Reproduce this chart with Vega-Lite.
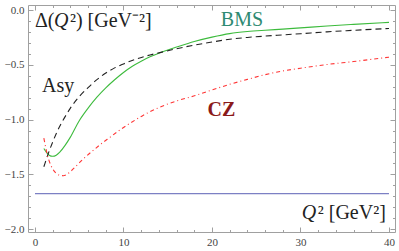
{
  "$schema": "https://vega.github.io/schema/vega-lite/v6.json",
  "width": 367,
  "height": 227,
  "autosize": "none",
  "padding": {"left": 28, "top": 5, "right": 4, "bottom": 19},
  "background": "white",
  "config": {
    "view": {"stroke": "#a0a0a0", "strokeWidth": 1},
    "axis": {
      "domain": false,
      "grid": false,
      "title": null,
      "labelFont": "Liberation Serif",
      "labelFontSize": 11,
      "labelColor": "#444444",
      "tickColor": "#a0a0a0",
      "tickWidth": 1
    }
  },
  "datasets": {
    "curves": [
      {"s": "BMS", "x": 1.0, "y": -1.264},
      {"s": "BMS", "x": 1.3, "y": -1.3},
      {"s": "BMS", "x": 1.6, "y": -1.325},
      {"s": "BMS", "x": 2.0, "y": -1.335},
      {"s": "BMS", "x": 2.4, "y": -1.325},
      {"s": "BMS", "x": 2.8, "y": -1.297},
      {"s": "BMS", "x": 3.4, "y": -1.235},
      {"s": "BMS", "x": 4.0, "y": -1.16},
      {"s": "BMS", "x": 5.0, "y": -1.01},
      {"s": "BMS", "x": 6.0, "y": -0.895},
      {"s": "BMS", "x": 7.0, "y": -0.795},
      {"s": "BMS", "x": 8.0, "y": -0.71},
      {"s": "BMS", "x": 9.0, "y": -0.636},
      {"s": "BMS", "x": 10.0, "y": -0.57},
      {"s": "BMS", "x": 11.0, "y": -0.513},
      {"s": "BMS", "x": 12.0, "y": -0.467},
      {"s": "BMS", "x": 13.0, "y": -0.427},
      {"s": "BMS", "x": 14.0, "y": -0.394},
      {"s": "BMS", "x": 15.0, "y": -0.365},
      {"s": "BMS", "x": 16.0, "y": -0.338},
      {"s": "BMS", "x": 18.0, "y": -0.287},
      {"s": "BMS", "x": 20.0, "y": -0.247},
      {"s": "BMS", "x": 22.0, "y": -0.215},
      {"s": "BMS", "x": 24.0, "y": -0.196},
      {"s": "BMS", "x": 26.0, "y": -0.184},
      {"s": "BMS", "x": 28.0, "y": -0.174},
      {"s": "BMS", "x": 30.0, "y": -0.163},
      {"s": "BMS", "x": 33.0, "y": -0.146},
      {"s": "BMS", "x": 36.0, "y": -0.131},
      {"s": "BMS", "x": 40.0, "y": -0.113},
      {"s": "Asy", "x": 1.0, "y": -1.43},
      {"s": "Asy", "x": 1.25, "y": -1.37},
      {"s": "Asy", "x": 1.5, "y": -1.31},
      {"s": "Asy", "x": 2.0, "y": -1.205},
      {"s": "Asy", "x": 2.5, "y": -1.11},
      {"s": "Asy", "x": 3.0, "y": -1.03},
      {"s": "Asy", "x": 3.5, "y": -0.96},
      {"s": "Asy", "x": 4.0, "y": -0.895},
      {"s": "Asy", "x": 5.0, "y": -0.79},
      {"s": "Asy", "x": 6.0, "y": -0.708},
      {"s": "Asy", "x": 7.0, "y": -0.635},
      {"s": "Asy", "x": 8.0, "y": -0.575},
      {"s": "Asy", "x": 9.0, "y": -0.528},
      {"s": "Asy", "x": 10.0, "y": -0.492},
      {"s": "Asy", "x": 11.5, "y": -0.445},
      {"s": "Asy", "x": 13.0, "y": -0.41},
      {"s": "Asy", "x": 14.5, "y": -0.381},
      {"s": "Asy", "x": 16.0, "y": -0.353},
      {"s": "Asy", "x": 18.0, "y": -0.32},
      {"s": "Asy", "x": 20.0, "y": -0.292},
      {"s": "Asy", "x": 22.0, "y": -0.267},
      {"s": "Asy", "x": 24.0, "y": -0.25},
      {"s": "Asy", "x": 26.0, "y": -0.238},
      {"s": "Asy", "x": 28.0, "y": -0.227},
      {"s": "Asy", "x": 30.0, "y": -0.216},
      {"s": "Asy", "x": 33.0, "y": -0.199},
      {"s": "Asy", "x": 36.0, "y": -0.185},
      {"s": "Asy", "x": 40.0, "y": -0.168},
      {"s": "CZ", "x": 1.0, "y": -1.17},
      {"s": "CZ", "x": 1.2, "y": -1.25},
      {"s": "CZ", "x": 1.4, "y": -1.325},
      {"s": "CZ", "x": 1.66, "y": -1.39},
      {"s": "CZ", "x": 2.0, "y": -1.45},
      {"s": "CZ", "x": 2.4, "y": -1.49},
      {"s": "CZ", "x": 2.8, "y": -1.508},
      {"s": "CZ", "x": 3.2, "y": -1.512},
      {"s": "CZ", "x": 3.6, "y": -1.5},
      {"s": "CZ", "x": 4.0, "y": -1.475},
      {"s": "CZ", "x": 4.7, "y": -1.42},
      {"s": "CZ", "x": 5.5, "y": -1.355},
      {"s": "CZ", "x": 6.6, "y": -1.28},
      {"s": "CZ", "x": 7.5, "y": -1.22},
      {"s": "CZ", "x": 8.5, "y": -1.16},
      {"s": "CZ", "x": 9.5, "y": -1.1},
      {"s": "CZ", "x": 10.4, "y": -1.051},
      {"s": "CZ", "x": 11.3, "y": -1.005},
      {"s": "CZ", "x": 12.2, "y": -0.962},
      {"s": "CZ", "x": 13.2, "y": -0.92},
      {"s": "CZ", "x": 14.3, "y": -0.88},
      {"s": "CZ", "x": 16.0, "y": -0.83},
      {"s": "CZ", "x": 18.0, "y": -0.783},
      {"s": "CZ", "x": 20.0, "y": -0.73},
      {"s": "CZ", "x": 22.0, "y": -0.678},
      {"s": "CZ", "x": 24.0, "y": -0.633},
      {"s": "CZ", "x": 26.0, "y": -0.59},
      {"s": "CZ", "x": 28.0, "y": -0.556},
      {"s": "CZ", "x": 30.0, "y": -0.531},
      {"s": "CZ", "x": 33.0, "y": -0.497},
      {"s": "CZ", "x": 36.0, "y": -0.47},
      {"s": "CZ", "x": 40.0, "y": -0.43},
      {"s": "const", "x": 0.0, "y": -1.676},
      {"s": "const", "x": 40.0, "y": -1.676}
    ],
    "labels": [
      {"t": "Δ(", "x": 0.0, "y": -0.158, "k": "normal", "c": "#222222"},
      {"t": "Q", "x": 2.14, "y": -0.158, "k": "italic", "c": "#222222"},
      {"t": "²) [GeV⁻²]", "x": 3.95, "y": -0.158, "k": "normal", "c": "#222222"},
      {"t": "Asy", "x": 0.8, "y": -0.752, "k": "normal", "c": "#222222"},
      {"t": "BMS", "x": 21.0, "y": -0.1435, "k": "normal", "c": "#2e8a72"},
      {"t": "CZ", "x": 19.5, "y": -0.969, "k": "bold", "c": "#8b1a1a"},
      {"t": "Q", "x": 30.14, "y": -1.908, "k": "italic", "c": "#222222"},
      {"t": "² [GeV²]", "x": 31.95, "y": -1.908, "k": "normal", "c": "#222222"}
    ]
  },
  "resolve": {"axis": {"x": "independent", "y": "independent"}},
  "layer": [
    {
      "data": {"name": "curves"},
      "transform": [{"filter": "datum.s === 'BMS'"}],
      "mark": {"type": "line", "stroke": "#3dbb3d", "strokeWidth": 1.1, "interpolate": "monotone", "clip": true},
      "encoding": {
        "x": {"field": "x", "type": "quantitative", "scale": {"domain": [-0.79, 40.68], "nice": false, "zero": false},
          "axis": {"orient": "bottom", "values": [0, 10, 20, 30, 40], "format": "d", "tickSize": -5, "labelPadding": 9.5, "labelFont": "Liberation Serif"}},
        "y": {"field": "y", "type": "quantitative", "scale": {"domain": [-2.026, 0.046], "nice": false, "zero": false},
          "axis": {"orient": "left", "values": [0, -0.5, -1, -1.5, -2], "format": ".1f", "tickSize": -5, "labelPadding": 9, "labelFont": "Liberation Serif"}}
      }
    },
    {
      "data": {"name": "curves"},
      "transform": [{"filter": "datum.s === 'Asy'"}],
      "mark": {"type": "line", "stroke": "#222222", "strokeWidth": 1.1, "strokeDash": [6, 4], "interpolate": "monotone", "clip": true},
      "encoding": {
        "x": {"field": "x", "type": "quantitative", "scale": {"domain": [-0.79, 40.68], "nice": false, "zero": false},
          "axis": {"orient": "bottom", "values": [2, 4, 6, 8, 12, 14, 16, 18, 22, 24, 26, 28, 32, 34, 36, 38], "labels": false, "tickSize": -2.5}},
        "y": {"field": "y", "type": "quantitative", "scale": {"domain": [-2.026, 0.046], "nice": false, "zero": false},
          "axis": {"orient": "left", "values": [-0.1, -0.2, -0.3, -0.4, -0.6, -0.7, -0.8, -0.9, -1.1, -1.2, -1.3, -1.4, -1.6, -1.7, -1.8, -1.9], "labels": false, "tickSize": -2.5}}
      }
    },
    {
      "data": {"name": "curves"},
      "transform": [{"filter": "datum.s === 'CZ'"}],
      "mark": {"type": "line", "stroke": "#ff3535", "strokeWidth": 1.1, "strokeDash": [4, 3, 1, 3], "interpolate": "monotone", "clip": true},
      "encoding": {
        "x": {"field": "x", "type": "quantitative", "scale": {"domain": [-0.79, 40.68], "nice": false, "zero": false},
          "axis": {"orient": "top", "values": [0, 10, 20, 30, 40], "labels": false, "tickSize": -5}},
        "y": {"field": "y", "type": "quantitative", "scale": {"domain": [-2.026, 0.046], "nice": false, "zero": false},
          "axis": {"orient": "right", "values": [0, -0.5, -1, -1.5, -2], "labels": false, "tickSize": -5}}
      }
    },
    {
      "data": {"name": "curves"},
      "transform": [{"filter": "datum.s === 'const'"}],
      "mark": {"type": "line", "stroke": "#7c80c4", "strokeWidth": 1.1, "clip": true},
      "encoding": {
        "x": {"field": "x", "type": "quantitative", "scale": {"domain": [-0.79, 40.68], "nice": false, "zero": false},
          "axis": {"orient": "top", "values": [2, 4, 6, 8, 12, 14, 16, 18, 22, 24, 26, 28, 32, 34, 36, 38], "labels": false, "tickSize": -2.5}},
        "y": {"field": "y", "type": "quantitative", "scale": {"domain": [-2.026, 0.046], "nice": false, "zero": false},
          "axis": {"orient": "right", "values": [-0.1, -0.2, -0.3, -0.4, -0.6, -0.7, -0.8, -0.9, -1.1, -1.2, -1.3, -1.4, -1.6, -1.7, -1.8, -1.9], "labels": false, "tickSize": -2.5}}
      }
    },
    {
      "data": {"name": "labels"},
      "transform": [{"filter": "datum.k === 'normal'"}],
      "mark": {"type": "text", "align": "left", "baseline": "alphabetic", "font": "Liberation Serif", "fontSize": 20},
      "encoding": {
        "x": {"field": "x", "type": "quantitative", "axis": null},
        "y": {"field": "y", "type": "quantitative", "axis": null},
        "text": {"field": "t"},
        "color": {"field": "c", "type": "nominal", "scale": null}
      }
    },
    {
      "data": {"name": "labels"},
      "transform": [{"filter": "datum.k === 'italic'"}],
      "mark": {"type": "text", "align": "left", "baseline": "alphabetic", "font": "Liberation Serif", "fontStyle": "italic", "fontSize": 20},
      "encoding": {
        "x": {"field": "x", "type": "quantitative", "axis": null},
        "y": {"field": "y", "type": "quantitative", "axis": null},
        "text": {"field": "t"},
        "color": {"field": "c", "type": "nominal", "scale": null}
      }
    },
    {
      "data": {"name": "labels"},
      "transform": [{"filter": "datum.k === 'bold'"}],
      "mark": {"type": "text", "align": "left", "baseline": "alphabetic", "font": "Liberation Serif", "fontWeight": "bold", "fontSize": 20},
      "encoding": {
        "x": {"field": "x", "type": "quantitative", "axis": null},
        "y": {"field": "y", "type": "quantitative", "axis": null},
        "text": {"field": "t"},
        "color": {"field": "c", "type": "nominal", "scale": null}
      }
    }
  ]
}
